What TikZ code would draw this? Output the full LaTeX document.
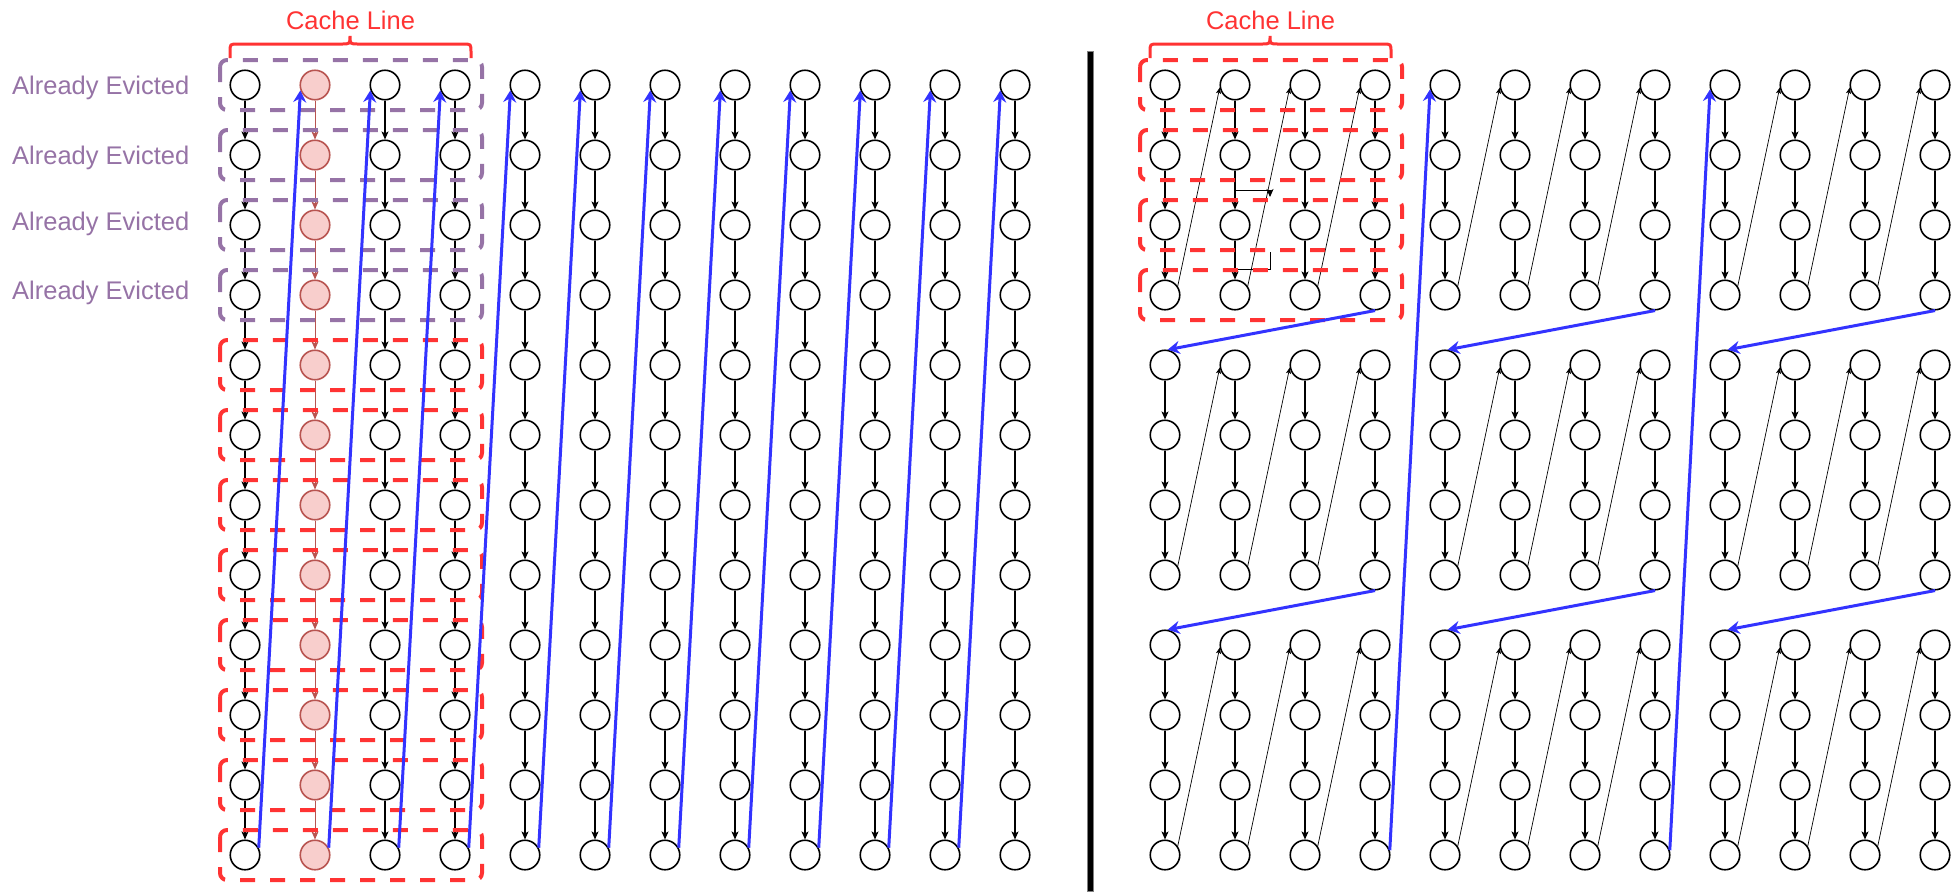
\documentclass[tikz,border=0pt]{standalone}
\usepackage{fontspec}
\setmainfont{Liberation Sans}
\usetikzlibrary{arrows.meta}
\definecolor{cred}{HTML}{FF3333}
\definecolor{cpurple}{HTML}{9673A6}
\definecolor{cblue}{HTML}{3333FF}
\definecolor{pinkf}{HTML}{F8CECC}
\definecolor{pinkb}{HTML}{B85450}
\begin{document}
\begin{tikzpicture}[x=1pt,y=-1pt,
  circ/.style={circle, draw=black, line width=1.6pt, minimum size=29.5pt, inner sep=0pt, fill=white},
  pinkc/.style={circ, draw=pinkb, fill=pinkf},
  varr/.style={draw=black, line width=1.1pt, -{Stealth[length=8pt,width=7pt,inset=2pt]}},
  parr/.style={varr, draw=pinkb, line width=0.9pt},
  tarr/.style={draw=black, line width=0.7pt, -{Stealth[length=6pt,width=5pt,inset=1.5pt]}},
  barr/.style={draw=cblue, line width=3pt, -{Stealth[length=12pt,width=13pt,inset=4pt]}},
  rbox/.style={draw=cred, line width=4pt, dash pattern=on 15pt off 15pt, rounded corners=7pt},
  pbox/.style={rbox, draw=cpurple},
  lbl/.style={font=\fontsize{25.5}{30}\selectfont, inner sep=0pt},
  cbrace/.style={draw=cred, line width=3pt}
]
\useasboundingbox (0,0) rectangle (1952,895);

% ---------- left grid nodes ----------
\foreach \kk in {0,2,3,4,5,6,7,8,9,10,11}{
  \foreach \rr in {0,...,11}{
    \node[circ] (L-\kk-\rr) at ({245+70*\kk},{85+70*\rr}) {};
  }
}
\foreach \rr in {0,...,11}{
  \node[pinkc] (L-1-\rr) at (315,{85+70*\rr}) {};
}

% vertical arrows left
\foreach \kk in {0,2,3,4,5,6,7,8,9,10,11}{
  \foreach \rr in {0,...,10}{
    \pgfmathtruncatemacro{\nn}{\rr+1}
    \draw[varr] (L-\kk-\rr.south) -- (L-\kk-\nn.north);
  }
}
\foreach \rr in {0,...,10}{
  \pgfmathtruncatemacro{\nn}{\rr+1}
  \draw[parr] (L-1-\rr.south) -- (L-1-\nn.north);
}

% ---------- right grid nodes ----------
\foreach \kk in {0,...,11}{
  \foreach \rr in {0,...,11}{
    \node[circ] (R-\kk-\rr) at ({1165+70*\kk},{85+70*\rr}) {};
  }
}

\foreach \kk in {0,...,11}{
  \foreach \rr in {0,1,2,4,5,6,8,9,10}{
    \pgfmathtruncatemacro{\nn}{\rr+1}
    \draw[varr] (R-\kk-\rr.south) -- (R-\kk-\nn.north);
  }
}

\foreach \kk in {0,1,2,4,5,6,8,9,10}{
  \foreach \rr in {3,7,11}{
    \pgfmathtruncatemacro{\cc}{\kk+1}
    \pgfmathtruncatemacro{\tt}{\rr-3}
    \draw[tarr] (R-\kk-\rr.35) -- (R-\cc-\tt.190);
  }
}

% odd little connector pieces in the first block
\coordinate (wa) at (1235,190);
\coordinate (wb) at (1270,197);
\coordinate (wc) at (1270,252);
\coordinate (wd) at (1235,269);
\draw[varr, line width=0.9pt] (wa) -| (wb);
\draw[draw=black, line width=0.9pt] (wc) |- (wd);

% ---------- dashed boxes ----------
\foreach \rr in {0,...,3}{
  \draw[pbox] (220,{60+70*\rr}) rectangle (482,{110+70*\rr});
}
\foreach \rr in {4,...,11}{
  \draw[rbox] (220,{60+70*\rr}) rectangle (482,{110+70*\rr});
}
\foreach \rr in {0,...,3}{
  \draw[rbox] (1140,{60+70*\rr}) rectangle (1402,{110+70*\rr});
}

% ---------- blue arrows ----------
\foreach \kk in {0,...,10}{
  \pgfmathtruncatemacro{\cc}{\kk+1}
  \draw[barr] (L-\kk-11.28) -- (L-\cc-0.200);
}

\foreach \kk in {3,7,11}{
  \foreach \rr in {3,7}{
    \pgfmathtruncatemacro{\cc}{\kk-3}
    \pgfmathtruncatemacro{\tt}{\rr+1}
    \draw[barr] (R-\kk-\rr.south) -- (R-\cc-\tt.80);
  }
}

\foreach \kk in {3,7}{
  \pgfmathtruncatemacro{\cc}{\kk+1}
  \draw[barr] (R-\kk-11.18) -- (R-\cc-0.196);
}

% ---------- divider ----------
\filldraw[fill=black, draw=gray, line width=0.8pt] (1087,51) rectangle (1093,891);

% ---------- labels ----------
\node[lbl, text=cpurple, anchor=base west] (ae0) at (12,94) {Already Evicted};
\node[lbl, text=cpurple, anchor=base west] (ae1) at (12,164) {Already Evicted};
\node[lbl, text=cpurple, anchor=base west] (ae2) at (12,230) {Already Evicted};
\node[lbl, text=cpurple, anchor=base west] (ae3) at (12,299) {Already Evicted};

\node[lbl, text=cred, anchor=base] (cl1) at (350.5,29) {Cache Line};
\node[lbl, text=cred, anchor=base] (cl2) at (1270.5,29) {Cache Line};

\draw[cbrace] (230,58) -- (230,52) .. controls (230,44) .. (238,44) -- (342,44)
  .. controls (350,44) .. (350,36) .. controls (350,44) .. (358,44) -- (463,44)
  .. controls (471,44) .. (471,52) -- (471,58);
\draw[cbrace] (1150,58) -- (1150,52) .. controls (1150,44) .. (1158,44) -- (1262,44)
  .. controls (1270,44) .. (1270,36) .. controls (1270,44) .. (1278,44) -- (1383,44)
  .. controls (1391,44) .. (1391,52) -- (1391,58);
\end{tikzpicture}
\end{document}
